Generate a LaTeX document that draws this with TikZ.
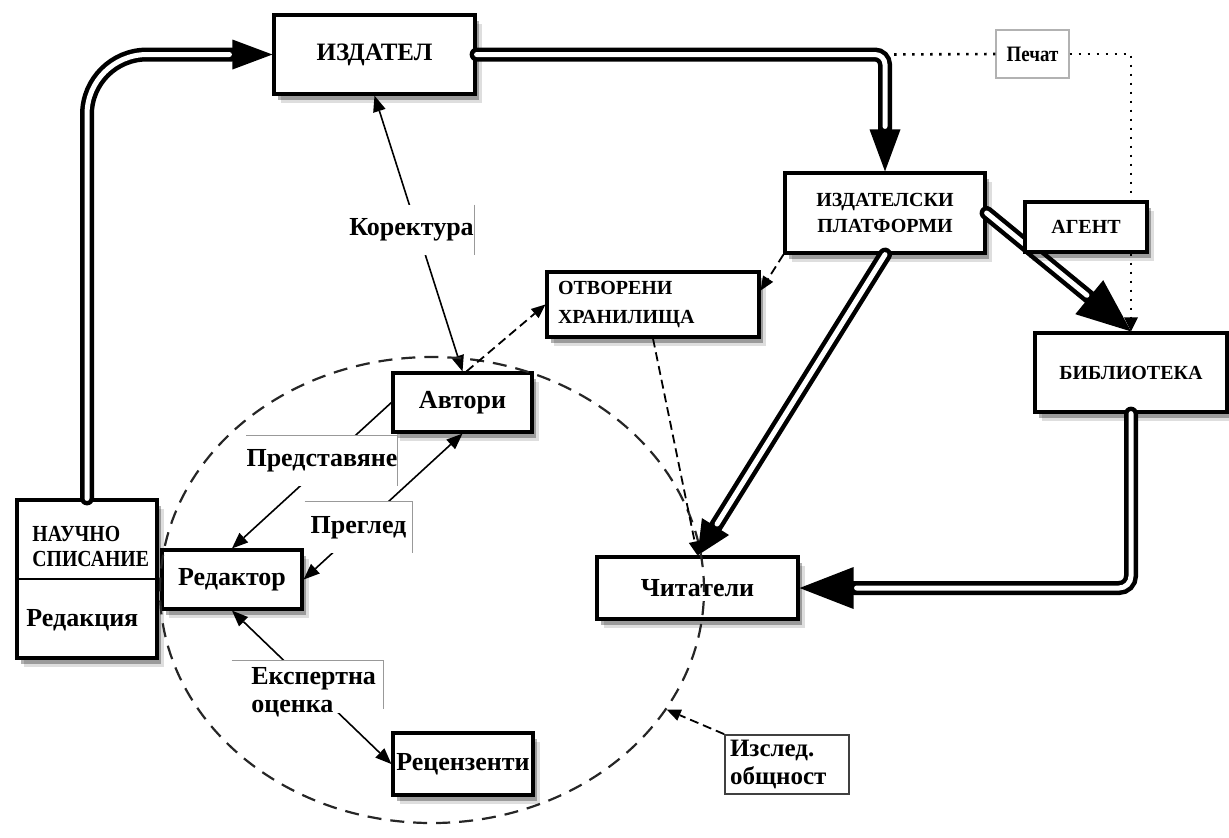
\documentclass[tikz,border=0pt]{standalone}
\usepackage{fontspec}
\setmainfont{Liberation Serif}
\newfontfamily\condfont[FakeStretch=0.86]{Liberation Serif}
\usetikzlibrary{arrows.meta,shapes.geometric,shadows,calc}
\tikzset{
  shad/.style={drop shadow={shadow xshift=3.5pt,shadow yshift=-4.5pt,opacity=0.13,fill=black},
               drop shadow={shadow xshift=2pt,shadow yshift=-2.8pt,opacity=0.3,fill=black}},
  box/.style={draw=black,line width=1.6pt,fill=white,inner sep=0pt,shad,
              font=\fontsize{13}{15}\selectfont\bfseries},
  capbox/.style={box,font=\fontsize{10}{13}\selectfont\bfseries},
  lbl/.style={fill=white,inner sep=0pt,font=\fontsize{13}{15}\selectfont\bfseries},
  lbltxt/.style={inner sep=0pt,font=\fontsize{13}{14}\selectfont\bfseries},
  lblline/.style={draw=black!40,line width=0.6pt},
  arr/.style={line width=0.8pt,-{Triangle[length=8pt,width=6.5pt,line width=0pt]}},
  arrboth/.style={line width=0.8pt,{Triangle[length=8pt,width=6.5pt,line width=0pt]}-{Triangle[length=8pt,width=6.5pt,line width=0pt]}},
  dsh/.style={line width=0.9pt,dash pattern=on 4.5pt off 2.5pt,-{Triangle[length=7pt,width=6pt,line width=0pt]}},
  dots/.style={line width=1.3pt,dash pattern=on 1.3pt off 3.2pt},
  dblback/.style={line width=7pt,line cap=round,draw=black},
  dblfront/.style={line width=2.5pt,line cap=round,draw=white},
}
\begin{document}
\begin{tikzpicture}[x=0.5pt,y=-0.5pt]
\useasboundingbox (0,0) rectangle (1229,837);

% boxes
\node[box,minimum width=100.5pt,minimum height=39.5pt,font=\fontsize{12.5}{15}\selectfont\bfseries] (izd) at (374.5,54.5) {ИЗДАТЕЛ};
\node[capbox,minimum width=100pt,minimum height=40pt,align=center] (plat) at (885,213) {ИЗДАТЕЛСКИ\\ПЛАТФОРМИ};
\node[capbox,minimum width=96pt,minimum height=39.5pt] (bib) at (1131,372.5) {БИБЛИОТЕКА};
\node[capbox,minimum width=106pt,minimum height=32.5pt,align=left,text width=95pt,inner xsep=5.5pt,
      font=\fontsize{10}{14.5}\selectfont\bfseries] (otv) at (653,304.5) {ОТВОРЕНИ\\ХРАНИЛИЩА};
\node[box,minimum width=69.5pt,minimum height=29.5pt] (avt) at (462.5,402.5) {Автори};
\node[box,minimum width=70pt,minimum height=29.5pt] (red) at (232,579.5) {Редактор};
\node[box,minimum width=70pt,minimum height=79pt] (nauch) at (87,579) {};
\draw[line width=1.4pt] (nauch.west) -- (nauch.east);
\node[inner sep=0pt,anchor=west,align=left,font=\condfont\fontsize{11.5}{12.5}\selectfont\bfseries] (nauchtxt) at (32,546) {НАУЧНО\\СПИСАНИЕ};
\node[inner sep=0pt,anchor=west,font=\fontsize{13}{15}\selectfont\bfseries] (redakc) at (26,620) {Редакция};
\node[box,minimum width=100.5pt,minimum height=31pt] (chit) at (697.5,588) {Читатели};
\node[box,minimum width=70pt,minimum height=31pt] (rec) at (463,764) {Рецензенти};
\node[draw=black!30,line width=0.6pt,fill=white,minimum width=36.5pt,minimum height=24pt,inner sep=0pt,
      font=\condfont\fontsize{11}{12}\selectfont\bfseries] (pechat) at (1032.5,54) {Печат};
\node[draw=black!75,line width=0.9pt,fill=white,text width=57pt,inner xsep=2.5pt,inner ysep=0pt,
      minimum height=29.5pt,align=left,font=\fontsize{12.5}{14}\selectfont\bfseries] (izsl) at (787,764.5) {Изслед.\\общност};

% double connectors
\draw[dblback,rounded corners=30pt,-{Triangle[length=20pt,width=15pt,line width=0pt]}] (nauch.north) |- (izd.west);
\draw[dblfront,rounded corners=30pt,shorten >=21.5pt] (nauch.north) |- (izd.west);
\draw[dblback,rounded corners=5pt,-{Triangle[length=21pt,width=15.5pt,line width=0pt]}] (izd.east) -| (plat.north);
\draw[dblfront,rounded corners=5pt,shorten >=22.5pt] (izd.east) -| (plat.north);
\draw[dblback,-{Triangle[length=27pt,width=22pt,line width=0pt]}] (plat.east) -- (bib.north);
\draw[dblfront,shorten >=28.5pt] (plat.east) -- (bib.north);
\draw[dblback,-{Triangle[length=17pt,width=16pt,line width=0pt]}] (plat.south) -- (chit.north);
\draw[dblfront,shorten >=18.5pt] (plat.south) -- (chit.north);
\draw[dblback,rounded corners=6pt,-{Triangle[length=27pt,width=21pt,line width=0pt]}] (bib.south) |- (chit.east);
\draw[dblfront,rounded corners=6pt,shorten >=28.5pt] (bib.south) |- (chit.east);

% dotted print line
\coordinate (pc) at (plat.north |- izd.east);
\draw[dots] (pc) -- (pechat.west);
\draw[dots,-{Triangle[length=7pt,width=7pt,line width=0pt]}] (pechat.east) -| (bib.north);

\node[capbox,minimum width=61pt,minimum height=25pt] (agent) at (1086,227) {АГЕНТ};

% solid single connectors
\draw[arrboth] (avt.north) -- (izd.south);
\draw[arr] (avt.west) -- (red.north);
\draw[arrboth] (avt.south) -- (red.east);
\draw[arrboth] (red.south) -- (rec.west);

% labels
\node[lbl,minimum width=61.5pt,minimum height=25pt] (korlbl) at (411.5,230) {Коректура};
\draw[lblline] (korlbl.north east) -- (korlbl.south east);
\node[lbl,minimum width=74pt,minimum height=25pt] (predlbl) at (322,461) {Представяне};
\draw[lblline] (predlbl.north west) -- (predlbl.north east) -- (predlbl.south east);
\node[lbl,minimum width=53.5pt,minimum height=25.5pt] (preglbl) at (358.5,527.5) {Преглед};
\draw[lblline] (preglbl.north west) -- (preglbl.north east) -- (preglbl.south east);
\node[lbl,minimum width=75.5pt,minimum height=26pt] (ekslbl) at (307.5,687) {};
\draw[lblline] (ekslbl.north west) -- (ekslbl.north east) -- ([yshift=2pt]ekslbl.south east);
\node[lbltxt,anchor=west,align=left] (ekstxt) at (251,692) {Експертна\\оценка};

% research community
\node[ellipse,draw=black!85,line width=1.1pt,dash pattern=on 7pt off 4.5pt,minimum width=272pt,minimum height=233pt,inner sep=0pt] (comm) at (432,590) {};

% dashed connectors
\draw[dsh] (plat.south west) -- ([yshift=7pt]otv.east);
\draw[dsh] ([xshift=2pt]avt.north) -- (otv.west);
\draw[dsh] (otv.south) -- (chit.north);
\draw[dsh] (izsl.north west) -- (comm.-27);
\end{tikzpicture}
\end{document}
